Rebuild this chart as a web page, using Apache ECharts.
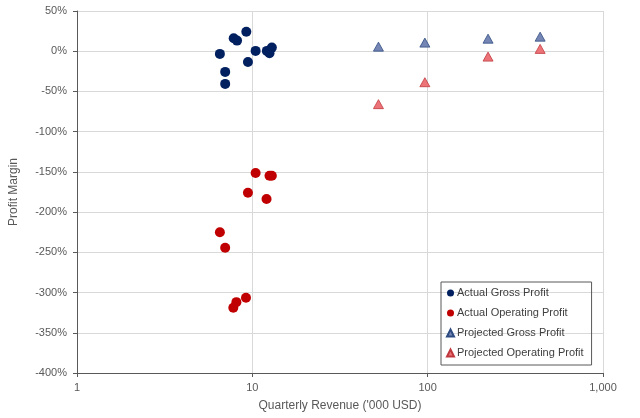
<!DOCTYPE html>
<html>
<head>
<meta charset="utf-8">
<script src="https://cdn.jsdelivr.net/npm/echarts@6/dist/echarts.min.js"></script>
<style>
  html, body { margin: 0; padding: 0; background: #fff; }
  #mainChart { width: 640px; height: 418px; }
</style>
</head>
<body>
<div id="mainChart"></div>
<script>
// actual quarters: revenue ('000 USD) and margins (%)
var actualRevenue = [9.24, 7.83, 8.18, 6.53, 10.44, 9.44, 7.0, 12.1, 12.53, 12.92, 7.0];
var actualGross = [24.3, 16.1, 13.2, -3.3, 0.4, -13.3, -25.7, 0.4, -2.5, 4.5, -40.6];

var actualOpRevenue = [10.44, 12.53, 12.92, 9.44, 12.05, 6.53, 7.0, 9.2, 8.11, 7.79];
var actualOperating = [-151.4, -154.7, -154.7, -175.9, -183.6, -225, -244.4, -306.5, -311.9, -318.9];

// projections
var projRevenue = [52.4, 96.4, 221, 438];
var projGross = [5.7, 10.7, 15.6, 18.1];
var projOperating = [-65.8, -38.5, -6.7, 2.9];

var xTicks = ['1', '10', '100', '1,000'];

function pairs(xs, ys) {
    var out = [];
    for (var i = 0; i < xs.length; i++) {
        out.push([xs[i], ys[i]]);
    }
    return out;
}

var myChart = echarts.init(document.getElementById('mainChart'));

var axisText = { color: '#595959', fontSize: 11, fontFamily: 'Liberation Sans' };

var option = {
    animation: false,
    textStyle: { fontFamily: 'Liberation Sans' },
    grid: { left: 74, right: 37, top: 11, bottom: 45 },
    legend: {
        orient: 'vertical',
        left: 441,
        top: 282,
        padding: [5, 8, 6, 5],
        itemGap: 8,
        itemWidth: 7,
        itemHeight: 7,
        borderColor: '#595959',
        borderWidth: 1,
        textStyle: { color: '#404040', fontSize: 11, fontFamily: 'Liberation Sans', lineHeight: 12, padding: [0, 0, 0, -2] },
        data: [
            { name: 'Actual Gross Profit', icon: 'circle' },
            { name: 'Actual Operating Profit', icon: 'circle' },
            { name: 'Projected Gross Profit', icon: 'triangle' },
            { name: 'Projected Operating Profit', icon: 'triangle' }
        ]
    },
    xAxis: {
        type: 'log',
        logBase: 10,
        min: 1,
        max: 1000,
        name: "Quarterly Revenue ('000 USD)",
        nameLocation: 'middle',
        nameGap: 27,
        nameTextStyle: { color: '#595959', fontSize: 12 },
        axisLine: { onZero: false, lineStyle: { color: '#595959', width: 1 } },
        axisTick: { show: true, length: 4, lineStyle: { color: '#595959' } },
        axisLabel: Object.assign({
            margin: 9,
            formatter: function (v) {
                var idx = Math.round(Math.log(v) / Math.LN10);
                return xTicks[idx] !== undefined ? xTicks[idx] : '';
            }
        }, axisText),
        splitLine: { show: true, lineStyle: { color: '#d9d9d9' } }
    },
    yAxis: {
        type: 'value',
        min: -400,
        max: 50,
        interval: 50,
        name: 'Profit Margin',
        nameLocation: 'middle',
        nameGap: 57,
        nameTextStyle: { color: '#595959', fontSize: 12 },
        axisLine: { show: true, onZero: false, lineStyle: { color: '#595959', width: 1 } },
        axisTick: { show: true, length: 4, lineStyle: { color: '#595959' } },
        axisLabel: Object.assign({ margin: 10, formatter: '{value}%' }, axisText),
        splitLine: { show: true, lineStyle: { color: '#d9d9d9' } }
    },
    series: [
        {
            name: 'Actual Gross Profit', type: 'scatter', symbol: 'circle', symbolSize: 10,
            itemStyle: { color: '#002060', opacity: 1 },
            data: pairs(actualRevenue, actualGross)
        },
        {
            name: 'Actual Operating Profit', type: 'scatter', symbol: 'circle', symbolSize: 10,
            itemStyle: { color: '#C00000', opacity: 1 },
            data: pairs(actualOpRevenue, actualOperating)
        },
        {
            name: 'Projected Gross Profit', type: 'scatter', symbol: 'triangle', symbolSize: [10, 9],
            itemStyle: { color: '#7586B4', borderColor: '#2F4C82', borderWidth: 0.8, opacity: 1 },
            data: pairs(projRevenue, projGross)
        },
        {
            name: 'Projected Operating Profit', type: 'scatter', symbol: 'triangle', symbolSize: [10, 9],
            itemStyle: { color: '#EC7479', borderColor: '#C0393F', borderWidth: 0.8, opacity: 1 },
            data: pairs(projRevenue, projOperating)
        }
    ]
};

myChart.setOption(option);
</script>
</body>
</html>
